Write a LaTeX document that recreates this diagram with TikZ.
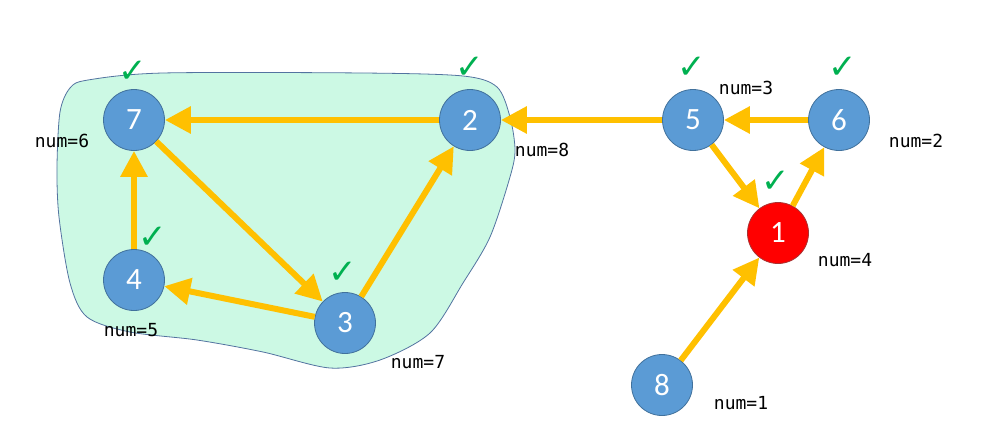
\documentclass[tikz,border=0pt]{standalone}
\usepackage{fontspec}
\setmonofont{DejaVu Sans Mono}
\newfontfamily\digitfont{Carlito}
\newfontfamily\markfont{DejaVu Sans}
\usetikzlibrary{arrows.meta}
\definecolor{nodeblue}{HTML}{5B9BD5}
\definecolor{nodeedge}{HTML}{41719C}
\definecolor{hotred}{HTML}{FF0000}
\definecolor{hotedge}{HTML}{A83232}
\definecolor{edgegold}{HTML}{FFC000}
\definecolor{blobfill}{HTML}{CCF9E4}
\definecolor{blobedge}{HTML}{5373A0}
\definecolor{okgreen}{HTML}{00B050}
\tikzset{
  vtx/.style={circle,fill=nodeblue,draw=nodeedge,line width=0.8pt,minimum size=61pt,
    inner sep=0pt,text=white,font=\digitfont\fontsize{31}{36}\selectfont},
  hotvtx/.style={vtx,fill=hotred,draw=hotedge},
  arr/.style={-{Triangle[length=26pt,width=26pt]},line width=6pt,draw=edgegold},
  numlab/.style={font=\ttfamily\fontsize{18}{20}\selectfont},
  donemark/.style={text=okgreen,inner sep=0pt,font=\markfont\fontsize{34}{36}\selectfont},
  blob/.style={fill=blobfill,draw=blobedge,line width=0.8pt},
}
\begin{document}
\begin{tikzpicture}[x=1pt,y=-1pt]
  \useasboundingbox (0,0) rectangle (982,439);
  % component
  \draw[blob] plot[smooth cycle,tension=0.5] coordinates {
    (88,80) (163,73) (363,73) (463,76) (497,87) (510,117) (515,150) (510,177)
    (490,237) (463,283) (430,333) (380,360) (330,368) (263,352) (197,340)
    (130,332) (87,317) (70,283) (59,217) (57,167) (60,112) (70,88)};
  % vertices
  \foreach \n/\x/\y in {7/134/120,2/470/120,4/134/280,3/345/323,5/693/120,6/839/120,8/662/385}{
    \node[vtx] (v\n) at (\x,\y) {\n};
  }
  \node[hotvtx] (v1) at (778,233) {1};
  % edges
  \foreach \a/\b in {2/7,5/2,6/5,5/1,1/6,8/1,7/3,3/2,3/4,4/7}{ \draw[arr] (v\a) -- (v\b); }
  % visit order
  \foreach \k/\x/\y/\val in {7/62/141/6,2/542/150/8,5/746/88/3,6/916/141/2,
    1/845/260/4,4/131/330/5,3/418/362/7,8/741/403/1}{
    \node[numlab] (num\k) at (\x,\y) {num=\val};
  }
  % visited marks
  \foreach \k/\x/\y in {7/133/72,2/470/68,4/153/238,3/343/273,5/692/68,6/843/68,1/776/182}{
    \node[donemark] (ok\k) at (\x,\y) {✓};
  }
\end{tikzpicture}
\end{document}
